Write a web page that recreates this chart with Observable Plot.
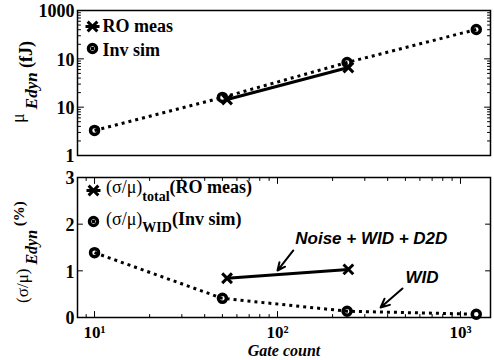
<!DOCTYPE html>
<html><head><meta charset="utf-8">
<script src="https://cdn.jsdelivr.net/npm/d3@7"></script>
<script src="https://cdn.jsdelivr.net/npm/@observablehq/plot@0.6"></script>
<style>body{margin:0;background:#fff;} #chart svg{display:block;}</style>
</head><body><div id="chart"></div>
<script>
// ---- data ----
const gateInv = [10, 50, 240, 1220];
const energyInv = [3.3, 15.9, 84, 405];
const gateRO = [53, 244];
const energyRO = [14.4, 66];
const sigmaInv = [1.39, 0.41, 0.135, 0.07];
const sigmaRO = [0.84, 1.03];

const yMajorTop = [1, 10, 100, 1000];
const yLabelsTop = ["1", "10", "10", "1000"];
const yMinorTop = [2,3,4,5,6,7,8,9,20,30,40,50,60,70,80,90,200,300,400,500,600,700,800,900];
const yMajorBot = [0, 1, 2, 3];
const yLabelsBot = ["0", "1", "2", "3"];
const xMajor = [10, 100, 1000];
const xLabels = ["10\u00B9", "10\u00B2", "10\u00B3"];
const xMinor = [9,20,30,40,50,60,70,80,90,200,300,400,500,600,700,800,900];

const annoText = ["Noise + WID + D2D", "WID"];
const annoTextX = [125, 500];
const annoTextY = [1.585, 0.75];
const arrowX1 = [122, 482], arrowY1 = [1.436, 0.621];
const arrowX2 = [100, 366], arrowY2 = [1.007, 0.214];

// ---- helpers ----
const xDomain = [8.07, 1459];
const serif = "Liberation Serif";
const sans = "Liberation Sans";
const tickShape = {draw(c, l) { c.moveTo(0, 0); c.lineTo(0, -l); }};
function ticks(values, anchor, len, key) {
  const rot = {left: 90, right: -90, bottom: 0, top: 180}[anchor];
  return Plot.vector(values, {[key]: d => d, frameAnchor: anchor, rotate: rot, length: len,
    anchor: "start", shape: tickShape, stroke: "black", strokeWidth: 1});
}
const dotted = {stroke: "black", strokeWidth: 3, strokeDasharray: "3,4", strokeLinecap: "butt", strokeLinejoin: "miter"};
const solid = {stroke: "black", strokeWidth: 3, strokeLinecap: "butt"};
const circ = {r: 4, stroke: "black", strokeWidth: 3.5, fill: "none"};
const cross = {symbol: "times", r: 4.5, stroke: "black", strokeWidth: 3};
const lab = {fontFamily: serif, fontSize: 18, fontWeight: "bold", fill: "black"};

// ---- top panel ----
const topPlot = Plot.plot({
  width: 494, height: 165, marginLeft: 77, marginRight: 4, marginTop: 10, marginBottom: 10,
  x: {type: "log", domain: xDomain, axis: null},
  y: {type: "log", domain: [1, 1000], axis: null},
  marks: [
    ticks(yMajorTop, "left", 6, "y"), ticks(yMajorTop, "right", 6, "y"),
    ticks(yMinorTop, "left", 3, "y"), ticks(yMinorTop, "right", 3, "y"),
    Plot.text(yMajorTop, {y: d => d, text: yLabelsTop, frameAnchor: "left", dx: -3, dy: 1, textAnchor: "end", ...lab}),
    Plot.line(gateInv, {x: gateInv, y: energyInv, ...dotted}),
    Plot.line(gateRO, {x: gateRO, y: energyRO, ...solid}),
    Plot.dot(gateInv, {x: gateInv, y: energyInv, ...circ}),
    Plot.dot(gateRO, {x: gateRO, y: energyRO, ...cross}),
    // legend
    Plot.vector([0], {frameAnchor: "top-left", dx: 15, dy: 16, rotate: 90, length: 14, anchor: "middle", shape: tickShape, ...solid}),
    Plot.dot([0], {frameAnchor: "top-left", dx: 15, dy: 16, ...cross}),
    Plot.text(["RO meas"], {frameAnchor: "top-left", dx: 25, dy: 21, textAnchor: "start", lineAnchor: "bottom", ...lab}),
    Plot.vector([0], {frameAnchor: "top-left", dx: 15, dy: 38, rotate: 90, length: 3, anchor: "middle", shape: tickShape, ...solid}),
    Plot.dot([0], {frameAnchor: "top-left", dx: 15, dy: 38, ...circ}),
    Plot.text(["Inv sim"], {frameAnchor: "top-left", dx: 25, dy: 45, textAnchor: "start", lineAnchor: "bottom", ...lab}),
    Plot.frame({stroke: "black", strokeWidth: 1.5})
  ]
});

// ---- bottom panel ----
const botPlot = Plot.plot({
  width: 494, height: 195, marginLeft: 77, marginRight: 4, marginTop: 12, marginBottom: 43,
  x: {type: "log", domain: xDomain, axis: null},
  y: {domain: [0, 3], axis: null},
  marks: [
    ticks(xMajor, "bottom", 6, "x"), ticks(xMajor, "top", 6, "x"),
    ticks(xMinor, "bottom", 3, "x"), ticks(xMinor, "top", 3, "x"),
    ticks(yMajorBot, "left", 5, "y"), ticks(yMajorBot, "right", 5, "y"),
    Plot.text(yMajorBot, {y: d => d, text: yLabelsBot, frameAnchor: "left", dx: -3, dy: 1, textAnchor: "end", ...lab}),
    Plot.text(xMajor, {x: d => d, text: xLabels, frameAnchor: "bottom", dy: 20, lineAnchor: "bottom", ...lab, fontSize: 17}),
    Plot.text(["Gate count"], {frameAnchor: "bottom", dy: 38.5, lineAnchor: "bottom", ...lab, fontSize: 16, fontStyle: "italic"}),
    Plot.line(gateInv, {x: gateInv, y: sigmaInv, ...dotted}),
    Plot.line(gateRO, {x: gateRO, y: sigmaRO, ...solid}),
    Plot.dot(gateInv, {x: gateInv, y: sigmaInv, ...circ}),
    Plot.dot(gateRO, {x: gateRO, y: sigmaRO, ...cross}),
    Plot.arrow(arrowX1, {x1: arrowX1, y1: arrowY1, x2: arrowX2, y2: arrowY2, stroke: "black", strokeWidth: 2, headLength: 9, headAngle: 50}),
    Plot.text(annoText, {x: annoTextX, y: annoTextY, text: annoText, textAnchor: "start", lineAnchor: "bottom",
      fontFamily: sans, fontSize: 17, fontWeight: "bold", fontStyle: "italic", fill: "black"}),
    // legend markers
    Plot.vector([0], {frameAnchor: "top-left", dx: 16, dy: 13, rotate: 90, length: 14, anchor: "middle", shape: tickShape, ...solid}),
    Plot.dot([0], {frameAnchor: "top-left", dx: 16, dy: 13, ...cross}),
    Plot.vector([0], {frameAnchor: "top-left", dx: 16, dy: 44, rotate: 90, length: 3, anchor: "middle", shape: tickShape, ...solid}),
    Plot.dot([0], {frameAnchor: "top-left", dx: 16, dy: 44, ...circ}),
    Plot.frame({stroke: "black", strokeWidth: 1.5})
  ]
});

// rich text labels (sub/superscripts)
function rich(svg, x, y, rotate, anchor, parts) {
  const t = d3.select(svg).append("text")
    .attr("transform", `translate(${x},${y})` + (rotate ? ` rotate(${rotate})` : ""))
    .attr("text-anchor", anchor).attr("font-family", serif).attr("fill", "black");
  for (const p of parts) {
    t.append("tspan").text(p.t).attr("dy", p.dy || 0).attr("font-size", p.s)
      .attr("font-weight", p.w || "normal").attr("font-style", p.i ? "italic" : "normal");
  }
}
rich(topPlot, 32, 82, -90, "middle", [
  {t: "\u03BC", s: 18, dy: -8},
  {t: " Edyn", s: 17, dy: 13, w: "bold", i: true},
  {t: " (fJ)", s: 18, dy: -5, w: "bold"}
]);
rich(botPlot, 28, 87, -90, "middle", [
  {t: "(\u03C3/\u03BC)", s: 17},
  {t: " Edyn", s: 16, dy: 9, w: "bold", i: true},
  {t: " (%)", s: 15, dy: -13, w: "bold"}
]);
rich(botPlot, 106, 28, 0, "start", [
  {t: "(\u03C3/\u03BC)", s: 18},
  {t: "total", s: 14, dy: 8, w: "bold"},
  {t: "(RO meas)", s: 18, dy: -8, w: "bold"}
]);
rich(botPlot, 106, 60, 0, "start", [
  {t: "(\u03C3/\u03BC)", s: 18},
  {t: "WID", s: 14, dy: 7, w: "bold"},
  {t: "(Inv sim)", s: 18, dy: -7, w: "bold"}
]);

const chart = document.getElementById("chart");
chart.appendChild(topPlot);
chart.appendChild(botPlot);
</script></body></html>
